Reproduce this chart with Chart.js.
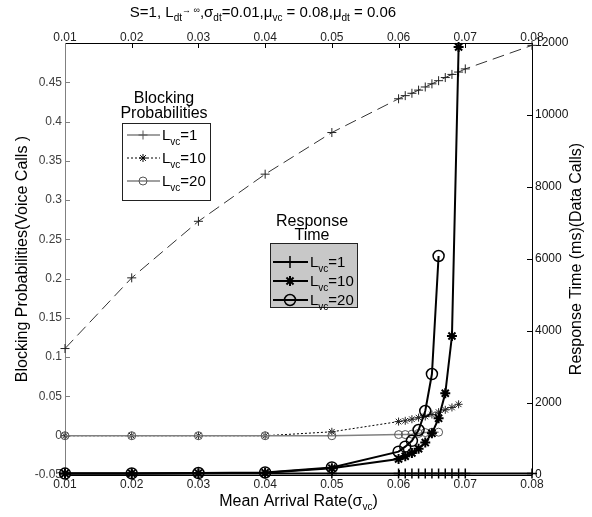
<!DOCTYPE html>
<html>
<head>
<meta charset="utf-8">
<script src="https://cdn.jsdelivr.net/npm/chart.js@4.4.1/dist/chart.umd.min.js"></script>
<style>
  html, body { margin: 0; padding: 0; background: #fff; }
  canvas { display: block; }
</style>
</head>
<body>
<canvas id="chart" width="592" height="517"></canvas>
<script>
// mean arrival rates (sigma_vc) for each curve
const xLvc1 = [0.01, 0.02, 0.03, 0.04, 0.05, 0.06, 0.061, 0.062, 0.063, 0.064, 0.065, 0.066, 0.067, 0.068, 0.069, 0.07, 0.08];
const xLvc10 = [0.01, 0.02, 0.03, 0.04, 0.05, 0.06, 0.061, 0.062, 0.063, 0.064, 0.065, 0.066, 0.067, 0.068, 0.069];
const xLvc20 = [0.01, 0.02, 0.03, 0.04, 0.05, 0.06, 0.061, 0.062, 0.063, 0.064, 0.065, 0.066];

// blocking probabilities (voice calls), left axis
const blockLvc1 = [0.111, 0.201, 0.273, 0.333, 0.386, 0.429, 0.433, 0.436, 0.44, 0.444, 0.448, 0.452, 0.456, 0.46, 0.463, 0.467, 0.497];
const blockLvc10 = [0, 0, 0, 0, 0.005, 0.018, 0.019, 0.021, 0.023, 0.0245, 0.027, 0.03, 0.033, 0.036, 0.04];
const blockLvc20 = [0, 0, 0, 0, 0, 0.0015, 0.0015, 0.002, 0.003, 0.004, 0.0045, 0.0045];

// response time in ms (data calls), right axis
const respLvc1 = [40, 40, 40, 40, 45, 45, 45, 45, 45, 45, 45, 45, 45, 45, 45, 45, 45];
const respLvc10 = [40, 45, 50, 60, 190, 444, 520, 610, 730, 900, 1157, 1574, 2270, 3861, 11890];
const respLvc20 = [40, 45, 55, 70, 210, 648, 787, 950, 1250, 1778, 2805, 6083];

const lvcLabels = ['1', '10', '20'];

const FONT = '"Liberation Sans", Arial, sans-serif';
Chart.defaults.font.family = FONT;

function pts(xs, ys) {
  return xs.map((x, i) => ({ x: x, y: ys[i] }));
}

const datasets = [
  // response time curves (on top)
  { data: pts(xLvc20, respLvc20), yAxisID: 'y1', order: 1, borderColor: '#000', borderWidth: 2,
    pointStyle: 'circle', pointRadius: 5.5, pointBorderWidth: 1.5, pointBorderColor: '#000', pointBackgroundColor: 'rgba(0,0,0,0)' },
  { data: pts(xLvc10, respLvc10), yAxisID: 'y1', order: 2, borderColor: '#000', borderWidth: 2,
    pointStyle: 'star', pointRadius: 5, pointBorderWidth: 2, pointBorderColor: '#000' },
  { data: pts(xLvc1, respLvc1), yAxisID: 'y1', order: 3, borderColor: '#000', borderWidth: 2,
    pointStyle: 'cross', pointRadius: 5, pointBorderWidth: 1.5, pointBorderColor: '#000' },
  // blocking probability curves
  { data: pts(xLvc20, blockLvc20), yAxisID: 'y', order: 4, borderColor: '#808080', borderWidth: 1.5,
    pointStyle: 'circle', pointRadius: 4, pointBorderWidth: 1, pointBorderColor: '#555', pointBackgroundColor: 'rgba(0,0,0,0)' },
  { data: pts(xLvc1, blockLvc1), yAxisID: 'y', order: 5, borderColor: '#333', borderWidth: 1, borderDash: [12, 6],
    pointStyle: 'cross', pointRadius: 4.5, pointBorderWidth: 1, pointBorderColor: '#222' },
  { data: pts(xLvc10, blockLvc10), yAxisID: 'y', order: 6, borderColor: '#000', borderWidth: 1, borderDash: [2, 2],
    pointStyle: 'star', pointRadius: 4, pointBorderWidth: 1, pointBorderColor: '#222' }
];
datasets.forEach(d => { d.xAxisID = 'x'; d.fill = false; d.tension = 0; d.clip = false; });

// text with subscripts: parts = [text, size, dy]
function richText(ctx, parts, cx, baseline) {
  let w = 0;
  parts.forEach(p => { ctx.font = p[1] + 'px ' + FONT; w += ctx.measureText(p[0]).width; });
  let x = cx - w / 2;
  ctx.textAlign = 'left';
  ctx.textBaseline = 'alphabetic';
  parts.forEach(p => {
    ctx.font = p[1] + 'px ' + FONT;
    ctx.fillText(p[0], x, baseline + p[2]);
    x += ctx.measureText(p[0]).width;
  });
}

function lvcText(ctx, n, x, baseline) {
  const parts = [['L', 15, 0], ['vc', 10, 5], ['=' + n, 15, 0]];
  ctx.textAlign = 'left';
  ctx.textBaseline = 'alphabetic';
  parts.forEach(p => {
    ctx.font = p[1] + 'px ' + FONT;
    ctx.fillText(p[0], x, baseline + p[2]);
    x += ctx.measureText(p[0]).width;
  });
}

function marker(ctx, style, x, y, r, lw, color) {
  ctx.save();
  ctx.strokeStyle = color;
  ctx.fillStyle = 'rgba(0,0,0,0)';
  ctx.lineWidth = lw;
  Chart.helpers.drawPoint(ctx, { pointStyle: style, radius: r, rotation: 0, borderWidth: lw }, x, y);
  ctx.restore();
}

const blockLegend = [
  { color: '#808080', width: 1.5, dash: [], style: 'cross', r: 4.5, mw: 1 },
  { color: '#000', width: 1, dash: [2, 2], style: 'star', r: 4, mw: 1 },
  { color: '#808080', width: 1.5, dash: [], style: 'circle', r: 4, mw: 1 }
];
const respLegend = [
  { color: '#000', width: 2, dash: [], style: 'cross', r: 6, mw: 1.5 },
  { color: '#000', width: 2, dash: [], style: 'star', r: 5, mw: 2 },
  { color: '#000', width: 2, dash: [], style: 'circle', r: 5.5, mw: 1.5 }
];

function drawLegend(ctx, box, fill, titles, titleX, titleY, entries, ys, lx0, lx1, mx, tx) {
  ctx.save();
  ctx.fillStyle = '#000';
  titles.forEach((t, i) => richText(ctx, [[t, 16, 0]], titleX, titleY[i]));
  ctx.fillStyle = fill;
  ctx.fillRect(box[0], box[1], box[2], box[3]);
  ctx.strokeStyle = '#222';
  ctx.lineWidth = 1;
  ctx.strokeRect(box[0] + 0.5, box[1] + 0.5, box[2], box[3]);
  entries.forEach((e, i) => {
    const y = ys[i];
    ctx.beginPath();
    ctx.strokeStyle = e.color;
    ctx.lineWidth = e.width;
    ctx.setLineDash(e.dash);
    ctx.moveTo(lx0, y);
    ctx.lineTo(lx1, y);
    ctx.stroke();
    ctx.setLineDash([]);
    marker(ctx, e.style, mx, y, e.r, e.mw, e.color === '#808080' ? '#555' : '#000');
    ctx.fillStyle = '#000';
    lvcText(ctx, lvcLabels[i], tx, y + 5);
  });
  ctx.restore();
}

const axisDecor = {
  id: 'axisDecor',
  beforeDatasetsDraw(chart) {
    const { ctx, chartArea: a, scales } = chart;
    const L = 5;
    ctx.save();
    ctx.lineWidth = 1;
    ctx.strokeStyle = '#000';
    ctx.beginPath();
    scales.x.ticks.forEach(t => {
      const px = Math.round(scales.x.getPixelForValue(t.value)) + 0.5;
      ctx.moveTo(px, a.bottom); ctx.lineTo(px, a.bottom - L);
      ctx.moveTo(px, a.top); ctx.lineTo(px, a.top + L);
    });
    scales.y1.ticks.forEach(t => {
      const py = Math.round(scales.y1.getPixelForValue(t.value)) + 0.5;
      ctx.moveTo(a.right, py); ctx.lineTo(a.right - L, py);
    });
    ctx.moveTo(a.left, Math.round(a.top) + 0.5); ctx.lineTo(a.right, Math.round(a.top) + 0.5);
    ctx.moveTo(Math.round(a.right) + 0.5, a.top); ctx.lineTo(Math.round(a.right) + 0.5, a.bottom);
    ctx.moveTo(a.left, Math.round(a.bottom) + 0.5); ctx.lineTo(a.right, Math.round(a.bottom) + 0.5);
    ctx.stroke();
    ctx.strokeStyle = '#808080';
    ctx.beginPath();
    scales.y.ticks.forEach(t => {
      const py = Math.round(scales.y.getPixelForValue(t.value)) + 0.5;
      ctx.moveTo(a.left, py); ctx.lineTo(a.left + L, py);
    });
    ctx.moveTo(Math.round(a.left) + 0.5, a.top); ctx.lineTo(Math.round(a.left) + 0.5, a.bottom);
    ctx.stroke();
    ctx.restore();
  },
  afterDraw(chart) {
    const { ctx, chartArea: a } = chart;
    ctx.save();
    ctx.fillStyle = '#000';
    richText(ctx, [['S=1, L', 15, 0], ['dt', 10, 4], ['\u2192 \u221e', 9, -4], [',\u03c3', 15, 0], ['dt', 10, 4],
      ['=0.01,\u03bc', 15, 0], ['vc', 10, 4], [' = 0.08,\u03bc', 15, 0], ['dt', 10, 4], [' = 0.06', 15, 0]], 263, 17);
    richText(ctx, [['Mean Arrival Rate(\u03c3', 16, 0], ['vc', 10, 4], [')', 16, 0]], (a.left + a.right) / 2, 506);
    ctx.translate(577, (a.top + a.bottom) / 2);
    ctx.rotate(-Math.PI / 2);
    ctx.font = '16px ' + FONT;
    ctx.textAlign = 'center';
    ctx.textBaseline = 'middle';
    ctx.fillText('Response Time (ms)(Data Calls)', 0, 0);
    ctx.restore();

    drawLegend(ctx, [122, 123, 88, 77], '#fff', ['Blocking', 'Probabilities'], 164, [103, 118],
      blockLegend, [135, 158, 181], 127, 160, 143, 162);
    drawLegend(ctx, [270, 243, 87, 64], '#c8c8c8', ['Response', 'Time'], 312, [226, 240],
      respLegend, [262, 281, 300], 273, 308, 290, 310);
  }
};

const xTicksBottom = {
  stepSize: 0.01, color: '#222', padding: 2, maxRotation: 0, autoSkip: false,
  font: { size: 12 }, callback: v => v.toFixed(2)
};
const xTicksTop = Object.assign({}, xTicksBottom, { padding: -2 });

new Chart(document.getElementById('chart'), {
  type: 'line',
  data: { datasets: datasets },
  options: {
    responsive: false,
    animation: false,
    devicePixelRatio: 1,
    layout: { padding: 0 },
    plugins: { legend: { display: false }, tooltip: { enabled: false }, title: { display: false } },
    scales: {
      x: {
        type: 'linear', position: 'bottom', min: 0.01, max: 0.08,
        grid: { display: false, drawTicks: false }, border: { display: false },
        ticks: xTicksBottom,
        afterFit: s => { s.height = 42; }
      },
      x2: {
        type: 'linear', position: 'top', min: 0.01, max: 0.08,
        grid: { display: false, drawTicks: false }, border: { display: false },
        ticks: xTicksTop,
        afterFit: s => { s.height = 43; }
      },
      y: {
        type: 'linear', position: 'left', min: -0.05, max: 0.5,
        grid: { display: false, drawTicks: false }, border: { display: false },
        ticks: { stepSize: 0.05, color: '#404040', padding: 3, font: { size: 12 },
          callback: v => String(Math.round(v * 100) / 100) },
        afterBuildTicks: s => { s.ticks = s.ticks.filter(t => t.value < 0.499); },
        title: { display: true, text: 'Blocking Probabilities(Voice Calls )', color: '#000',
          font: { size: 16 }, padding: { top: 13, bottom: 0 } },
        afterFit: s => { s.width = 65; }
      },
      y1: {
        type: 'linear', position: 'right', min: 0, max: 12000,
        grid: { display: false, drawTicks: false }, border: { display: false },
        ticks: { stepSize: 2000, color: '#111', padding: 3, font: { size: 12 } , callback: v => String(v) },
        afterFit: s => { s.width = 60; }
      }
    }
  },
  plugins: [axisDecor]
});
</script>
</body>
</html>
